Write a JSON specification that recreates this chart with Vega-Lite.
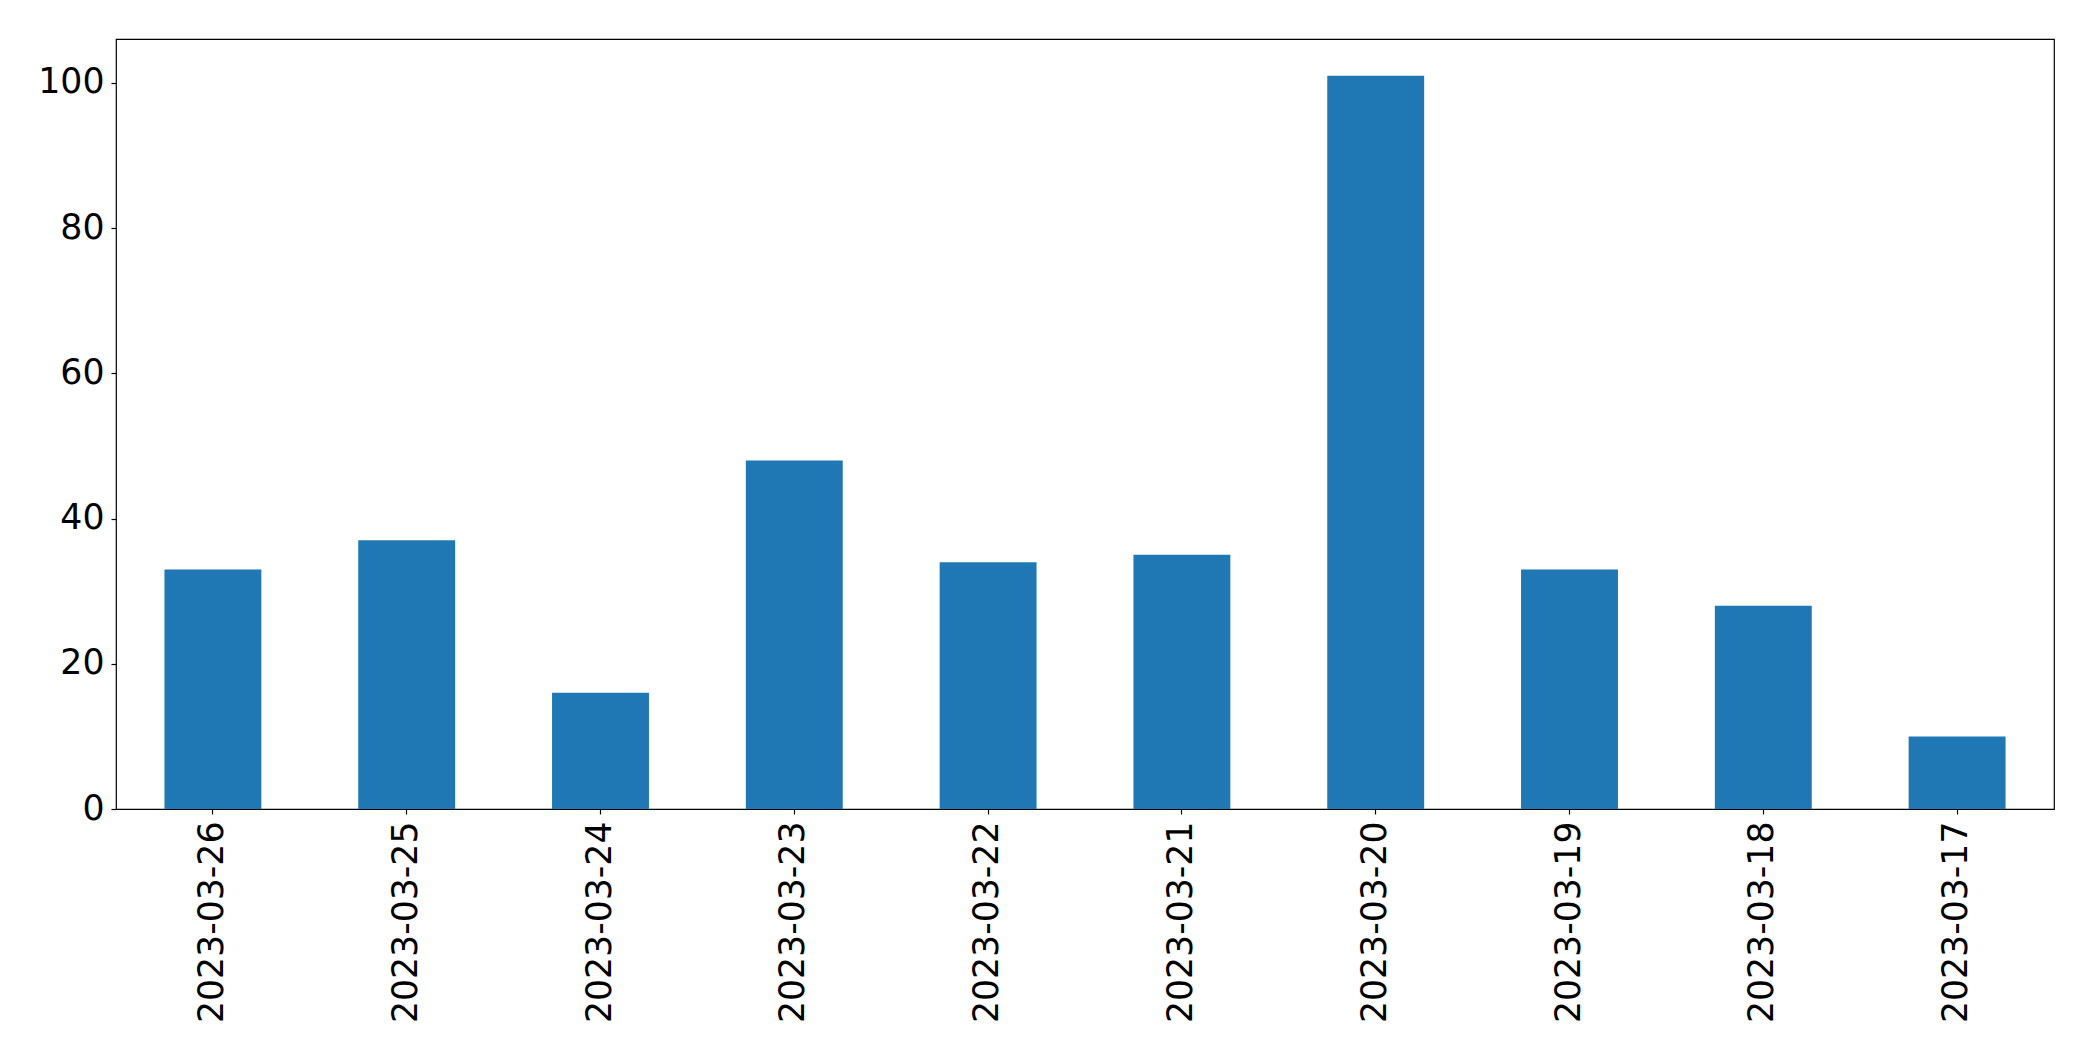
{
  "$schema": "https://vega.github.io/schema/vega-lite/v6.json",
  "autosize": {"type": "none"},
  "width": 1938,
  "height": 770,
  "padding": {"left": 116, "top": 39, "right": 39, "bottom": 252},
  "background": "white",
  "config": {
    "view": {"stroke": "black", "strokeWidth": 1.2},
    "axis": {
      "labelFont": "DejaVu Sans",
      "labelFontSize": 34.7,
      "labelColor": "black",
      "labelLimit": 0,
      "tickColor": "black",
      "tickSize": 5,
      "tickWidth": 1.2,
      "domain": false,
      "grid": false,
      "title": null
    }
  },
  "data": {
    "values": [
      {"date": "2023-03-26", "count": 33},
      {"date": "2023-03-25", "count": 37},
      {"date": "2023-03-24", "count": 16},
      {"date": "2023-03-23", "count": 48},
      {"date": "2023-03-22", "count": 34},
      {"date": "2023-03-21", "count": 35},
      {"date": "2023-03-20", "count": 101},
      {"date": "2023-03-19", "count": 33},
      {"date": "2023-03-18", "count": 28},
      {"date": "2023-03-17", "count": 10}
    ]
  },
  "mark": {"type": "bar", "color": "#1f77b4"},
  "encoding": {
    "x": {
      "field": "date",
      "type": "nominal",
      "sort": null,
      "scale": {"paddingInner": 0.5, "paddingOuter": 0.25},
      "axis": {"labelAngle": -90, "labelPadding": 7}
    },
    "y": {
      "field": "count",
      "type": "quantitative",
      "scale": {"domain": [0, 106.05], "nice": false, "zero": true},
      "axis": {"values": [0, 20, 40, 60, 80, 100], "labelPadding": 7}
    }
  }
}
